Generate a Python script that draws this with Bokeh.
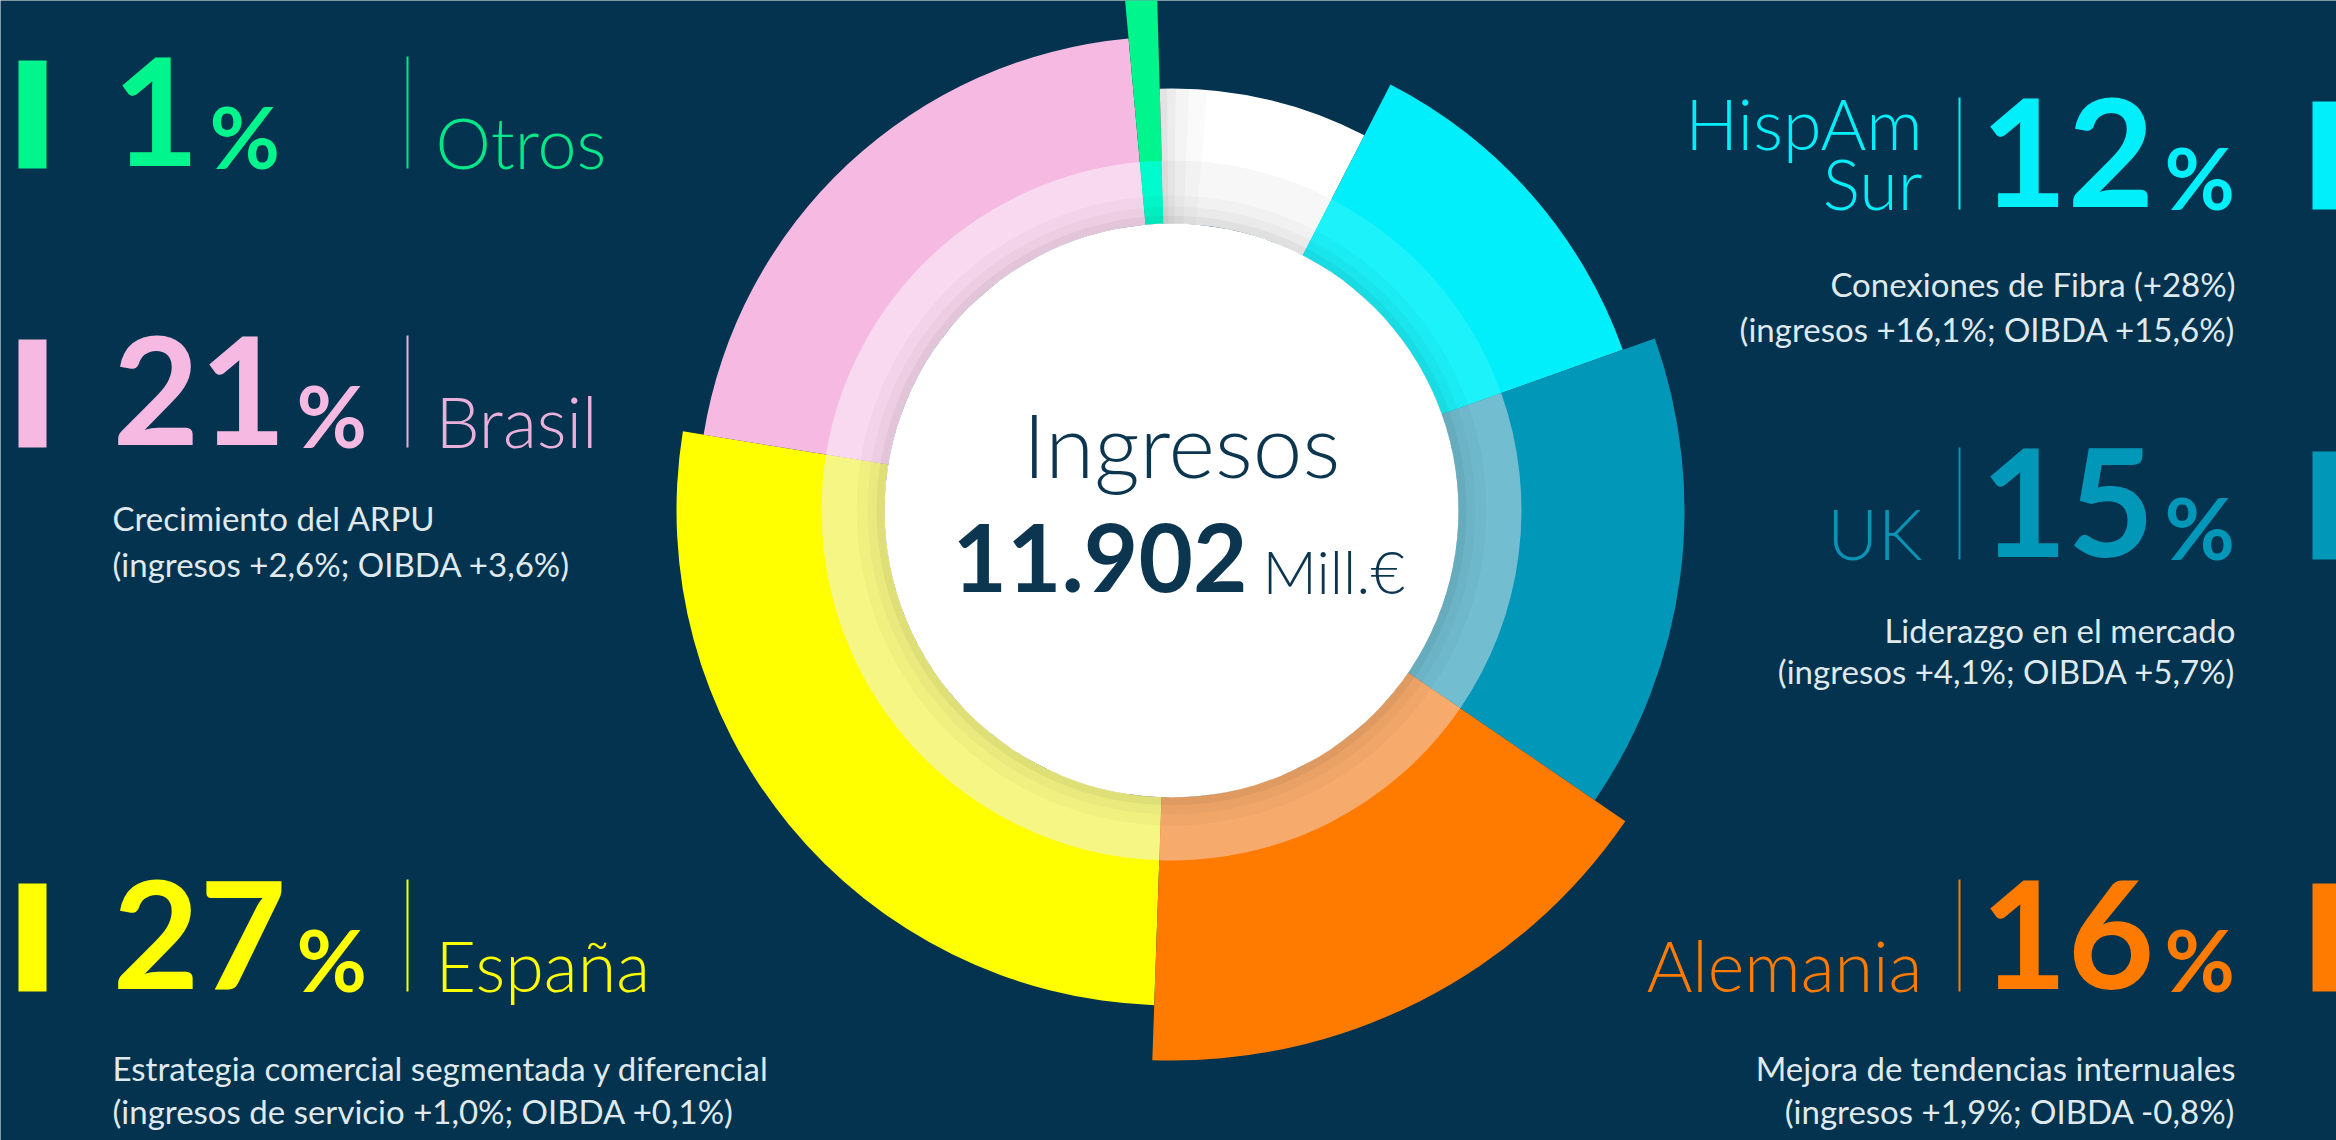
import math
from bokeh.plotting import figure
from bokeh.models import ColumnDataSource, Range1d
from bokeh.core.properties import value
from bokeh.embed import file_html
from bokeh.resources import INLINE

# ---------------- data ----------------
segments = ["España", "Brasil", "Otros", "HispAm Norte", "HispAm Sur", "UK", "Alemania"]
shares = [27, 21, 1, 8, 12, 15, 16]          # % of revenue, clockwise from the bottom

left_items = ["Otros", "Brasil", "España"]
left_pct = [1, 21, 27]
right_items = ["HispAm Sur", "UK", "Alemania"]
right_pct = [12, 15, 16]
right_labels = [["HispAm", "Sur"], ["UK"], ["Alemania"]]

desc = {
    "Otros": [],
    "Brasil": ["Crecimiento del ARPU", "(ingresos +2,6%; OIBDA +3,6%)"],
    "España": ["Estrategia comercial segmentada y diferencial",
               "(ingresos de servicio +1,0%; OIBDA +0,1%)"],
    "HispAm Sur": ["Conexiones de Fibra (+28%)", "(ingresos +16,1%; OIBDA +15,6%)"],
    "UK": ["Liderazgo en el mercado", "(ingresos +4,1%; OIBDA +5,7%)"],
    "Alemania": ["Mejora de tendencias internuales", "(ingresos +1,9%; OIBDA -0,8%)"],
}
center_title = "Ingresos"
center_value = "11.902"
center_unit = "Mill.€"

# ---------------- style ----------------
W, H = 2336, 1140
BG = "#03334e"
seg_color = {"España": "#ffff00", "Brasil": "#f5b9e2", "Otros": "#00f58c",
             "HispAm Norte": "#ffffff", "HispAm Sur": "#00effa", "UK": "#0097b9",
             "Alemania": "#ff7b00"}
band_color = {"España": "#f6f684", "Brasil": "#f9d9ef", "Otros": "#00fccc",
              "HispAm Norte": "#f7f7f7", "HispAm Sur": "#1cf2fa", "UK": "#72bdd0",
              "Alemania": "#f6aa6c"}
label_color = dict(seg_color)
label_color.update({"Otros": "#00e88a", "Brasil": "#eab0d9", "UK": "#0a93b5"})
outer_r = {"España": 495, "Brasil": 474, "Otros": 640, "HispAm Norte": 422,
           "HispAm Sur": 479, "UK": 513, "Alemania": 550}
CX, CY_SCREEN = 1171, 510
START_CLOCK = 182.0
R_WHITE, R_BAND = 287, 350
NAVY = "#0c3550"
DESC_COL = "#dfe9ee"
F_BOLD = value("Lato")
F_LIGHT = value("'Lato Light', Lato")
F_REG = value("Lato")
SHIFT = 0.38   # alphabetic-baseline correction (fraction of font size)


def sy(y):
    return H - y


def text_at(x, base, txt, size, font, color, align, bold=False):
    """place text with its alphabetic baseline at screen y = base"""
    kw = dict(text_font_style="bold") if bold else {}
    p.text(x=[x], y=[sy(base - SHIFT * size)], text=[txt], text_font=font,
           text_font_size=f"{size}px", text_color=color, text_align=align,
           text_baseline="alphabetic", **kw)


CY = sy(CY_SCREEN)

p = figure(width=W, height=H, x_range=Range1d(0, W), y_range=Range1d(0, H),
           x_axis_type=None, y_axis_type=None, min_border=0,
           toolbar_location=None, output_backend="svg",
           background_fill_color=BG, border_fill_color=BG, outline_line_color=None)
p.grid.visible = False

# ---------------- donut ----------------
starts, ends, cols, bands, outs = [], [], [], [], []
cum = START_CLOCK
for s, v in zip(segments, shares):
    th0, th1 = cum, cum + v * 3.6
    cum = th1
    # clock angle -> math angle (anticlockwise from +x)
    starts.append(math.radians(90 - th1))
    ends.append(math.radians(90 - th0))
    cols.append(seg_color[s])
    bands.append(band_color[s])
    outs.append(outer_r[s])

src = ColumnDataSource(dict(seg=segments, share=shares, start=starts, end=ends,
                            color=cols, band=bands, outer=outs))

p.annular_wedge(x=CX, y=CY, inner_radius=R_WHITE, outer_radius="outer",
                start_angle="start", end_angle="end", source=src,
                fill_color="color", line_color=None)
p.annular_wedge(x=CX, y=CY, inner_radius=R_WHITE, outer_radius=R_BAND,
                start_angle="start", end_angle="end", source=src,
                fill_color="band", line_color=None)

# soft grey shading on the white segment next to the green one
k = segments.index("HispAm Norte")
hn_end = ends[k]
for w, a in [(1.0, 0.035), (2.2, 0.03), (4.0, 0.025), (6.5, 0.02)]:
    p.annular_wedge(x=CX, y=CY, inner_radius=R_WHITE, outer_radius=outs[k],
                    start_angle=hn_end - math.radians(w), end_angle=hn_end,
                    fill_color="black", fill_alpha=a, line_color=None)

# shadow of the white disc on the light band
for r0, r1, a in [(R_WHITE, R_WHITE + 8, 0.09), (R_WHITE + 8, R_WHITE + 17, 0.05),
                  (R_WHITE + 17, R_WHITE + 28, 0.025)]:
    p.annulus(x=CX, y=CY, inner_radius=r0, outer_radius=r1,
              fill_color="black", fill_alpha=a, line_color=None)

p.circle(x=CX, y=CY, radius=R_WHITE, fill_color="white", line_color=None)

# center texts
text_at(1181, 477, center_title, 89, F_LIGHT, NAVY, "center")
text_at(952, 593, center_value, 94, F_BOLD, NAVY, "left", bold=True)
text_at(1262, 593, center_unit, 60, F_LIGHT, NAVY, "left")

# ---------------- side labels ----------------
NUM_SIZE = 150
DIGIT_ADV = 0.58 * NUM_SIZE
PCT_SIZE = 86
LABEL_SIZE = 70
DESC_SIZE = "33px"
CAP = 108

left_base = [168, 447, 991]
left_desc_y = {"Brasil": [517, 563], "España": [1067, 1110]}
right_base = [209, 559, 991]
right_desc_y = {"HispAm Sur": [283, 328], "UK": [629, 670], "Alemania": [1067, 1110]}


def number_block(name, pct, base, num_x, bar_l, bar_r, sep_x):
    c = seg_color[name]
    p.quad(left=[bar_l], right=[bar_r], top=[sy(base - CAP)], bottom=[sy(base)],
           fill_color=c, line_color=None)
    p.segment(x0=[sep_x], y0=[sy(base - CAP - 4)], x1=[sep_x], y1=[sy(base)],
              line_color=label_color[name], line_width=2)
    txt = str(pct)
    text_at(num_x, base, txt, NUM_SIZE, F_BOLD, c, "left", bold=True)
    text_at(num_x + len(txt) * DIGIT_ADV + 10, base, "%", PCT_SIZE, F_BOLD, c,
            "left", bold=True)


for name, pct, base in zip(left_items, left_pct, left_base):
    number_block(name, pct, base, 112, 18, 46, 407)
    text_at(435, base, name, LABEL_SIZE, F_LIGHT, label_color[name], "left")
    lines = desc[name]
    if lines:
        ys = left_desc_y[name]
        p.text(x=[112] * len(lines), y=[sy(v) for v in ys], text=lines,
               text_font=F_REG, text_font_size=DESC_SIZE, text_color=DESC_COL,
               text_align="left", text_baseline="middle")

for name, pct, base, lbl in zip(right_items, right_pct, right_base, right_labels):
    number_block(name, pct, base, 1980, 2312, 2340, 1959)
    n = len(lbl)
    for i, t in enumerate(lbl):
        text_at(1922, base - 60 * (n - 1 - i), t, LABEL_SIZE, F_LIGHT,
                label_color[name], "right")
    lines = desc[name]
    ys = right_desc_y[name]
    p.text(x=[2235] * len(lines), y=[sy(v) for v in ys], text=lines,
           text_font=F_REG, text_font_size=DESC_SIZE, text_color=DESC_COL,
           text_align="right", text_baseline="middle")

open("out.html", "w").write(file_html(p, INLINE))
